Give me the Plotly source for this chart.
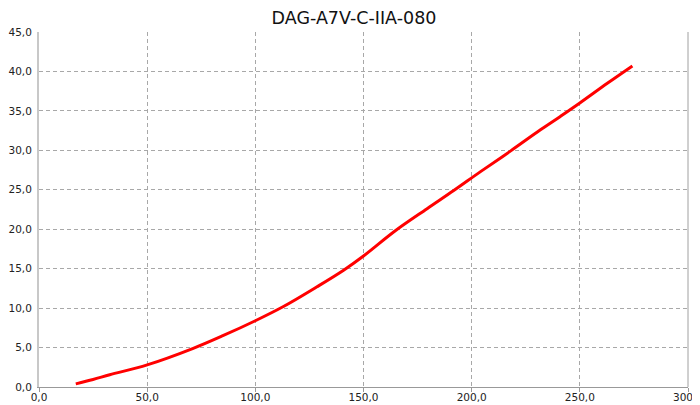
import plotly.graph_objects as go

x_vals = [17.0, 25.0, 32.7, 50.0, 71.3, 85.0, 100.0, 113.0, 128.5, 140.8, 150.0, 164.7, 179.4, 191.7, 204.1, 217.9, 231.8, 241.0, 250.0, 262.7, 274.3]
y_vals = [0.4, 0.95, 1.55, 2.8, 4.9, 6.5, 8.4, 10.2, 12.7, 14.8, 16.6, 19.8, 22.6, 24.9, 27.3, 29.9, 32.6, 34.3, 36.0, 38.5, 40.7]

title_text = "DAG-A7V-C-IIA-080"

fig = go.Figure()
fig.add_trace(go.Scatter(x=x_vals, y=y_vals, mode="lines",
                         line=dict(color="#ff0000", width=3, shape="spline", smoothing=1.0),
                         showlegend=False, hoverinfo="skip"))

grid = dict(showgrid=True, gridcolor="#a8a8a8", griddash="4px,3px", gridwidth=1,
            zeroline=False, automargin=False, ticklabeloverflow="allow")

# page has an 8px body margin; figure sized to fill the 700x405 window
fig.update_layout(
    width=692, height=397,
    margin=dict(l=31, r=12, t=24, b=18),
    paper_bgcolor="white", plot_bgcolor="white",
    separators=",.",
    font=dict(family="DejaVu Sans", size=10.5, color="#222"),
    title=dict(text=title_text, x=0.5, xanchor="center", y=1 - 10 / 397, yanchor="middle",
               font=dict(family="DejaVu Sans", size=17.5, color="#111")),
    xaxis=dict(range=[0, 300], dtick=50, tick0=0, tickformat=".1f",
               showline=True, linecolor="#999999", linewidth=1,
               ticks="outside", ticklen=4, tickcolor="#999999",
               ticklabelstandoff=-4, **grid),
    yaxis=dict(range=[0, 45], dtick=5, tick0=0, tickformat=".1f",
               showline=True, linecolor="#c8c8c8", linewidth=2,
               ticks="", ticklabelstandoff=3, **grid),
    shapes=[dict(type="line", xref="x domain", yref="y domain", x0=1, x1=1, y0=0, y1=1,
                 line=dict(color="#a0a0a0", width=1))],
)

fig.write_html("out.html")
